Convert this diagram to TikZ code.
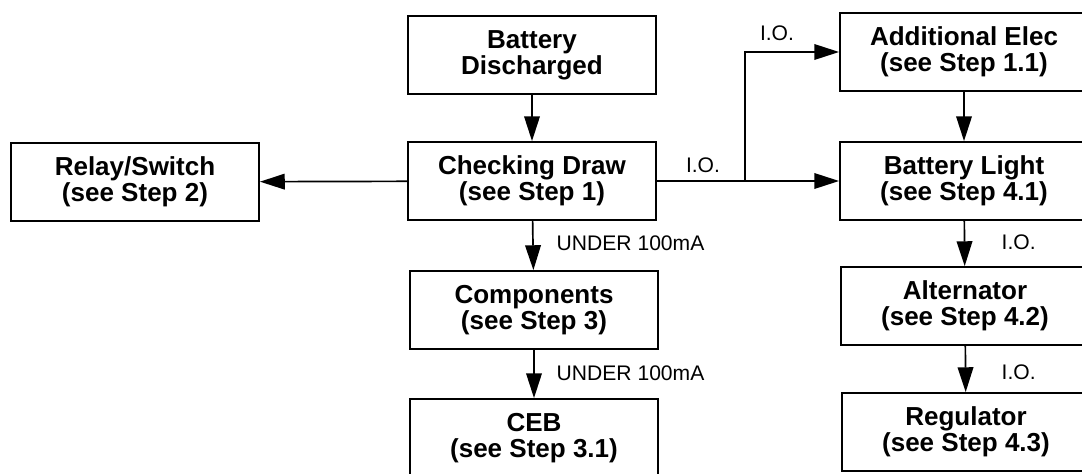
\documentclass[tikz,border=0pt]{standalone}
\usepackage{fontspec}
\setmainfont{Liberation Sans}
\usetikzlibrary{arrows.meta,positioning,calc}

\begin{document}
\begin{tikzpicture}[
    x=0.025cm,y=-0.025cm,
    every node/.style={font=\fontsize{15}{16}\selectfont},
    box/.style={draw,line width=1.3pt,minimum width=6.2cm,minimum height=1.95cm,align=center,inner sep=4pt,font=\fontsize{18.5}{18.5}\selectfont\bfseries},
    arr/.style={-{Triangle[length=6.2mm,width=3.9mm]},line width=1.2pt},
    lbl/.style={inner sep=1pt}
  ]
    \useasboundingbox (0,0) rectangle (1082,473);
    \node[box] (dis) at (532,55) {Battery\\Discharged};
    \node[box] (check) at (532,181) {Checking Draw\\(see Step 1)};
    \node[box] (relay) at (135,182) {Relay/Switch\\(see Step 2)};
    \node[box] (comp) at (534,310) {Components\\(see Step 3)};
    \node[box] (ceb) at (534,438) {CEB\\(see Step 3.1)};
    \node[box] (addl) at (964,52) {Additional Elec\\(see Step 1.1)};
    \node[box] (light) at (964,181) {Battery Light\\(see Step 4.1)};
    \node[box] (alt) at (965,306) {Alternator\\(see Step 4.2)};
    \node[box] (reg) at (966,432) {Regulator\\(see Step 4.3)};
    \coordinate (split) at (745,181);
    \draw[arr] (dis) -- (check);
    \draw[arr] (check) -- (relay);
    \draw[arr] (check) -- (light);
    \draw[arr] (split) |- (addl.west);
    \draw[arr] (check) -- (comp);
    \draw[arr] (comp) -- (ceb);
    \draw[arr] (addl) -- (light);
    \draw[arr] (light) -- (alt);
    \draw[arr] (alt) -- (reg);
    \node[lbl] (io1) at (703,165) {I.O.};
    \node[lbl] (io2) at (777,33) {I.O.};
    \node[lbl,anchor=west] (ua1) at (555,243) {UNDER 100mA};
    \node[lbl,anchor=west] (ua2) at (555,373) {UNDER 100mA};
    \node[lbl,anchor=west] (io3) at (1000,242) {I.O.};
    \node[lbl,anchor=west] (io4) at (1000,372) {I.O.};
  \end{tikzpicture}
\end{document}
